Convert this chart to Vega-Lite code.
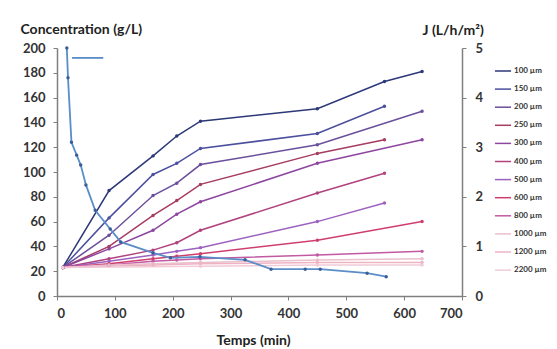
{
  "$schema": "https://vega.github.io/schema/vega-lite/v6.json",
  "width": 405,
  "height": 248,
  "autosize": {"type": "none"},
  "padding": {"left": 57, "top": 48, "right": 95, "bottom": 53},
  "background": "white",
  "config": {
    "view": {"stroke": null},
    "font": "Lato",
    "axis": {
      "grid": false,
      "domainColor": "#7f7f7f",
      "domainWidth": 1.5,
      "tickColor": "#7f7f7f",
      "tickSize": 4,
      "labelFont": "Lato",
      "labelFontWeight": "bold",
      "labelFontSize": 13,
      "labelColor": "#333333",
      "titleFont": "Lato",
      "titleFontWeight": "bold",
      "titleFontSize": 14,
      "titleColor": "#222222"
    }
  },
  "datasets": {
    "conc": [
      {"s": "100 µm", "t": 10, "c": 23}, {"s": "100 µm", "t": 90, "c": 85}, {"s": "100 µm", "t": 166, "c": 113}, {"s": "100 µm", "t": 207, "c": 129}, {"s": "100 µm", "t": 248, "c": 141}, {"s": "100 µm", "t": 450, "c": 151}, {"s": "100 µm", "t": 566, "c": 173}, {"s": "100 µm", "t": 631, "c": 181},
      {"s": "150 µm", "t": 10, "c": 23}, {"s": "150 µm", "t": 90, "c": 63}, {"s": "150 µm", "t": 166, "c": 98}, {"s": "150 µm", "t": 207, "c": 107}, {"s": "150 µm", "t": 248, "c": 119}, {"s": "150 µm", "t": 450, "c": 131}, {"s": "150 µm", "t": 566, "c": 153},
      {"s": "200 µm", "t": 10, "c": 23}, {"s": "200 µm", "t": 90, "c": 49}, {"s": "200 µm", "t": 166, "c": 81}, {"s": "200 µm", "t": 207, "c": 91}, {"s": "200 µm", "t": 248, "c": 106}, {"s": "200 µm", "t": 450, "c": 122}, {"s": "200 µm", "t": 631, "c": 149},
      {"s": "250 µm", "t": 10, "c": 23}, {"s": "250 µm", "t": 90, "c": 40}, {"s": "250 µm", "t": 166, "c": 65}, {"s": "250 µm", "t": 207, "c": 77}, {"s": "250 µm", "t": 248, "c": 90}, {"s": "250 µm", "t": 450, "c": 115}, {"s": "250 µm", "t": 566, "c": 126},
      {"s": "300 µm", "t": 10, "c": 23}, {"s": "300 µm", "t": 90, "c": 38}, {"s": "300 µm", "t": 166, "c": 53}, {"s": "300 µm", "t": 207, "c": 66}, {"s": "300 µm", "t": 248, "c": 76}, {"s": "300 µm", "t": 450, "c": 107}, {"s": "300 µm", "t": 631, "c": 126},
      {"s": "400 µm", "t": 10, "c": 23}, {"s": "400 µm", "t": 90, "c": 30}, {"s": "400 µm", "t": 166, "c": 37}, {"s": "400 µm", "t": 207, "c": 43}, {"s": "400 µm", "t": 248, "c": 53}, {"s": "400 µm", "t": 450, "c": 83}, {"s": "400 µm", "t": 566, "c": 99},
      {"s": "500 µm", "t": 10, "c": 23}, {"s": "500 µm", "t": 90, "c": 28}, {"s": "500 µm", "t": 166, "c": 33}, {"s": "500 µm", "t": 207, "c": 36}, {"s": "500 µm", "t": 248, "c": 39}, {"s": "500 µm", "t": 450, "c": 60}, {"s": "500 µm", "t": 566, "c": 75},
      {"s": "600 µm", "t": 10, "c": 23}, {"s": "600 µm", "t": 90, "c": 26}, {"s": "600 µm", "t": 166, "c": 30}, {"s": "600 µm", "t": 207, "c": 32}, {"s": "600 µm", "t": 248, "c": 34}, {"s": "600 µm", "t": 450, "c": 45}, {"s": "600 µm", "t": 631, "c": 60},
      {"s": "800 µm", "t": 10, "c": 23}, {"s": "800 µm", "t": 90, "c": 25}, {"s": "800 µm", "t": 166, "c": 28}, {"s": "800 µm", "t": 207, "c": 29}, {"s": "800 µm", "t": 248, "c": 30}, {"s": "800 µm", "t": 450, "c": 33}, {"s": "800 µm", "t": 631, "c": 36},
      {"s": "1000 µm", "t": 10, "c": 23}, {"s": "1000 µm", "t": 90, "c": 25}, {"s": "1000 µm", "t": 166, "c": 26}, {"s": "1000 µm", "t": 248, "c": 27}, {"s": "1000 µm", "t": 450, "c": 29}, {"s": "1000 µm", "t": 631, "c": 30},
      {"s": "1200 µm", "t": 10, "c": 23}, {"s": "1200 µm", "t": 166, "c": 25}, {"s": "1200 µm", "t": 248, "c": 26}, {"s": "1200 µm", "t": 450, "c": 27}, {"s": "1200 µm", "t": 631, "c": 27},
      {"s": "2200 µm", "t": 10, "c": 23}, {"s": "2200 µm", "t": 248, "c": 24}, {"s": "2200 µm", "t": 450, "c": 25}, {"s": "2200 µm", "t": 631, "c": 25}
    ],
    "flux": [
      {"t": 17, "J": 5.0}, {"t": 19, "J": 4.4}, {"t": 25, "J": 3.1}, {"t": 34, "J": 2.84}, {"t": 41, "J": 2.64},
      {"t": 50, "J": 2.24}, {"t": 66, "J": 1.73}, {"t": 92, "J": 1.35}, {"t": 110, "J": 1.09}, {"t": 166, "J": 0.87},
      {"t": 196, "J": 0.77}, {"t": 247, "J": 0.79}, {"t": 325, "J": 0.73}, {"t": 370, "J": 0.54}, {"t": 429, "J": 0.54},
      {"t": 455, "J": 0.54}, {"t": 536, "J": 0.46}, {"t": 569, "J": 0.39}
    ],
    "fkey": [
      {"t": 26, "J": 4.8}, {"t": 80, "J": 4.8}
    ]
  },
  "layer": [
    {
      "data": {"name": "conc"},
      "encoding": {
        "x": {"field": "t", "type": "quantitative", "scale": {"domain": [0, 700], "nice": false},
          "axis": {"values": [0, 100, 200, 300, 400, 500, 600, 700], "title": "Temps (min)", "labelPadding": 7, "titleX": 196, "titleY": 44, "titleAlign": "center", "titleBaseline": "middle"}},
        "y": {"field": "c", "type": "quantitative", "scale": {"domain": [0, 200], "nice": false},
          "axis": {"orient": "left", "values": [0, 20, 40, 60, 80, 100, 120, 140, 160, 180, 200], "title": "Concentration (g/L)", "titleAngle": 0, "titleX": -37, "titleY": -19, "titleAlign": "left", "titleBaseline": "middle", "labelPadding": 8}},
        "color": {"field": "s", "type": "nominal",
          "scale": {
            "domain": ["100 µm", "150 µm", "200 µm", "250 µm", "300 µm", "400 µm", "500 µm", "600 µm", "800 µm", "1000 µm", "1200 µm", "2200 µm"],
            "range": ["#2c3878", "#4b4f9e", "#6a4f9c", "#a63c62", "#8d45a0", "#b0437f", "#9c62c0", "#cf3f6e", "#c15aa2", "#e9c0cc", "#eeb3c3", "#f1cbd8"]
          },
          "legend": {"orient": "none", "legendX": 437, "legendY": 14, "title": null, "symbolType": "stroke", "symbolSize": 260, "symbolStrokeWidth": 1.5, "labelFont": "Lato", "labelFontWeight": "bold", "labelFontSize": 8, "labelColor": "#333333", "rowPadding": 5.1, "labelOffset": 2}}
      },
      "layer": [
        {"mark": {"type": "line", "strokeWidth": 1.5}},
        {"mark": {"type": "point", "filled": true, "size": 12, "opacity": 1}}
      ]
    },
    {
      "data": {"name": "flux"},
      "encoding": {
        "x": {"field": "t", "type": "quantitative", "scale": {"domain": [0, 700], "nice": false},
          "axis": {"values": [0, 100, 200, 300, 400, 500, 600, 700], "title": "Temps (min)", "labelPadding": 7, "titleX": 196, "titleY": 44, "titleAlign": "center", "titleBaseline": "middle"}},
        "y": {"field": "J", "type": "quantitative", "scale": {"domain": [0, 5], "nice": false},
          "axis": {"orient": "right", "values": [0, 1, 2, 3, 4, 5], "title": "J (L/h/m²)", "titleAngle": 0, "titleX": -40, "titleY": -18, "titleAlign": "left", "titleBaseline": "middle", "labelPadding": 9}}
      },
      "layer": [
        {"mark": {"type": "line", "strokeWidth": 1.8, "color": "#5b8ec8"}},
        {"mark": {"type": "point", "filled": true, "size": 12, "color": "#3a5f95", "opacity": 1}},
        {"data": {"name": "fkey"}, "mark": {"type": "line", "strokeWidth": 1.8, "color": "#5b8ec8"}}
      ]
    }
  ],
  "resolve": {"scale": {"y": "independent"}}
}
